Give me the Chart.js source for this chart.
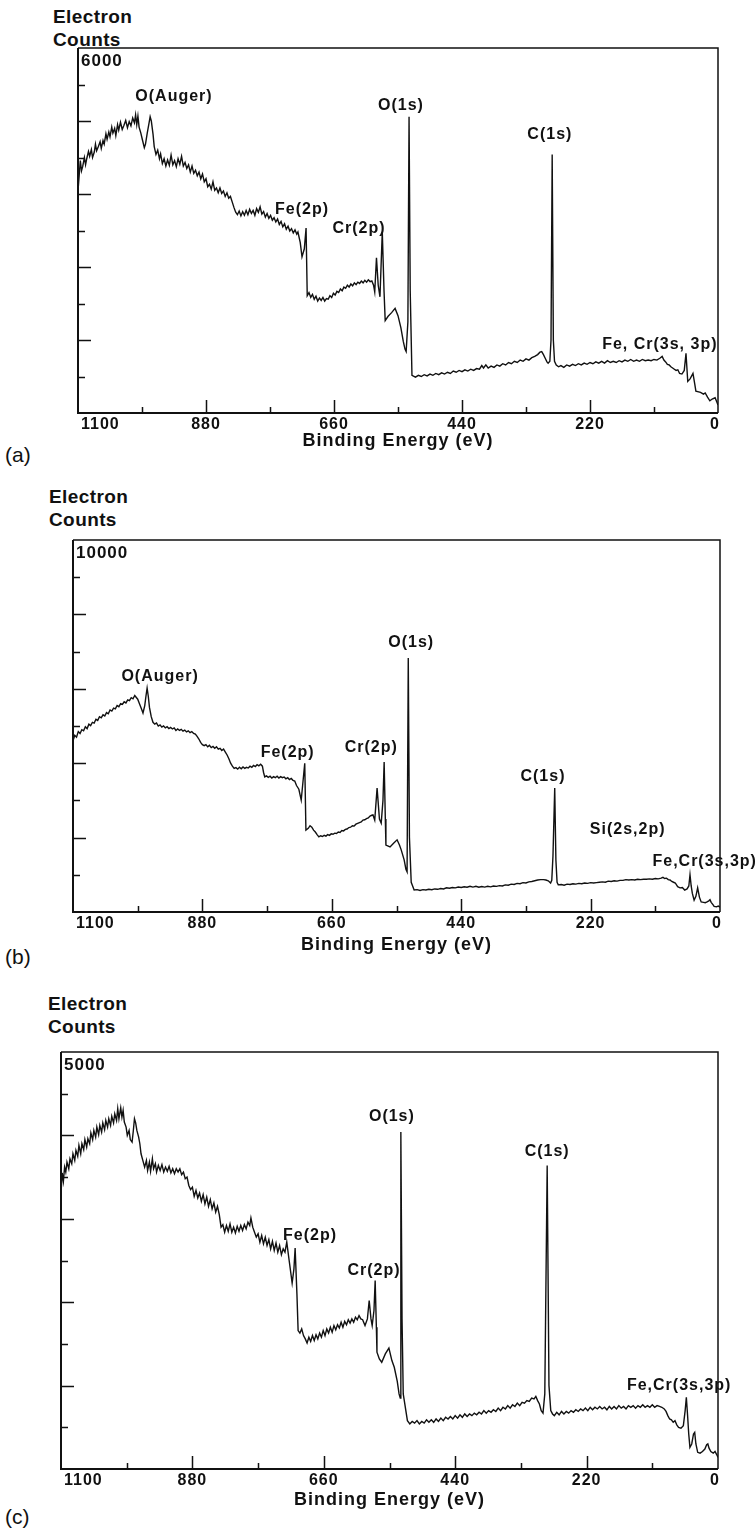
<!DOCTYPE html>
<html>
<head>
<meta charset="utf-8">
<script src="https://cdn.jsdelivr.net/npm/chart.js@4.4.1/dist/chart.umd.min.js"></script>
<style>
  body { margin: 0; background: #fff; }
  #page { position: relative; width: 756px; height: 1529px; font-family: "Liberation Sans", Arial, sans-serif; color: #111; }
  #page canvas { position: absolute; left: 0; }
  .ylab { position: absolute; font-weight: bold; font-size: 19px; line-height: 23px; letter-spacing: 0.4px; }
  .tag { position: absolute; left: 5px; font-size: 21px; line-height: 24px; }
</style>
</head>
<body>
<div id="page">
  <div class="ylab" style="left:53px; top:5px">Electron<br>Counts</div>
  <div class="ylab" style="left:49px; top:485px">Electron<br>Counts</div>
  <div class="ylab" style="left:48px; top:992px">Electron<br>Counts</div>
  <div class="tag" style="top:443px">(a)</div>
  <div class="tag" style="top:945px">(b)</div>
  <div class="tag" style="top:1505px">(c)</div>
  <canvas id="chartA" width="756" height="463" style="top:0px"></canvas>
  <canvas id="chartB" width="756" height="492" style="top:470px"></canvas>
  <canvas id="chartC" width="756" height="544" style="top:975px"></canvas>
</div>
<script>
// x axis: binding energy, labelled every 220 eV
const xMajor = [1100, 880, 660, 440, 220, 0];
const yMax = [6000, 10000, 5000];

// [binding energy (eV), electron counts]
const spectrumA = [
  [1100, 3650], [1098, 3900], [1096, 4150], [1094, 3980], [1092, 4050], [1089, 4200], [1087, 4080],
  [1085, 4180], [1082, 4300], [1080, 4220], [1077, 4330], [1075, 4200], [1072, 4290], [1070, 4420],
  [1068, 4310], [1065, 4380], [1062, 4460], [1060, 4350], [1057, 4480], [1055, 4420], [1052, 4590],
  [1050, 4500], [1047, 4620], [1045, 4540], [1042, 4700], [1040, 4600], [1037, 4680], [1035, 4560],
  [1032, 4740], [1030, 4650], [1027, 4780], [1024, 4660], [1021, 4730], [1018, 4810], [1015, 4690],
  [1012, 4790], [1009, 4720], [1006, 4850], [1003, 4770], [1001, 4900], [999, 4740], [997, 4880],
  [995, 4700], [992, 4600], [989, 4480], [986, 4360], [984, 4420], [981, 4600], [978, 4760],
  [976, 4870], [974, 4800], [971, 4580], [969, 4380], [966, 4250], [963, 4320], [960, 4180],
  [958, 4260], [955, 4100], [952, 4180], [949, 4060], [946, 4160], [943, 4070], [940, 4240],
  [937, 4080], [934, 4150], [931, 4050], [928, 4180], [925, 4090], [922, 4220], [919, 4060],
  [916, 4120], [913, 4020], [910, 4080], [907, 3960], [904, 4060], [901, 3940], [898, 3990],
  [895, 3900], [892, 3960], [889, 3850], [886, 3930], [883, 3800], [880, 3850], [877, 3720],
  [874, 3760], [871, 3680], [868, 3800], [865, 3660], [862, 3700], [859, 3620], [856, 3700],
  [853, 3610], [850, 3650], [847, 3560], [844, 3620], [841, 3530], [838, 3560], [835, 3470],
  [832, 3380], [829, 3300], [826, 3260], [823, 3320], [820, 3240], [817, 3310], [814, 3250],
  [811, 3330], [808, 3260], [805, 3350], [802, 3280], [799, 3330], [796, 3250], [793, 3360],
  [790, 3300], [787, 3390], [784, 3270], [781, 3310], [778, 3220], [775, 3280], [772, 3200],
  [769, 3250], [766, 3170], [763, 3210], [760, 3140], [757, 3190], [754, 3100], [751, 3150],
  [748, 3060], [745, 3110], [742, 3020], [739, 3070], [736, 2990], [733, 3030], [730, 2960],
  [727, 3010], [724, 2940], [722, 2975], [718, 2800], [715, 2567], [711, 2700], [708, 3040],
  [706, 1930], [703, 1980], [700, 1900], [697, 1950], [694, 1870], [691, 1920], [688, 1840],
  [685, 1890], [682, 1850], [679, 1900], [676, 1840], [673, 1880], [670, 1870], [667, 1930],
  [664, 1900], [661, 1970], [658, 1940], [655, 2000], [652, 1980], [649, 2040], [646, 2010],
  [643, 2070], [640, 2050], [637, 2100], [634, 2070], [631, 2120], [628, 2090], [625, 2140],
  [622, 2110], [619, 2150], [616, 2130], [613, 2170], [610, 2140], [607, 2180], [604, 2150],
  [601, 2190], [598, 2160], [595, 2170], [592, 2100], [590, 1990], [587, 2550], [584, 2100],
  [581, 1910], [577, 2980], [574, 2000], [572, 1520], [567, 1590], [561, 1650], [555, 1720],
  [550, 1600], [545, 1400], [541, 1180], [538, 1050], [536, 1010], [533, 1500], [531, 4870],
  [529, 2000], [526, 620], [520, 590], [515, 620], [510, 600], [505, 630], [500, 610],
  [495, 640], [490, 620], [485, 650], [480, 630], [475, 660], [470, 640], [465, 670],
  [460, 650], [455, 690], [450, 670], [445, 700], [440, 680], [435, 710], [430, 690],
  [425, 720], [420, 700], [415, 730], [410, 720], [406, 780], [403, 740], [399, 790],
  [395, 740], [390, 770], [385, 750], [380, 790], [375, 770], [370, 810], [365, 790],
  [360, 830], [355, 810], [350, 850], [345, 830], [340, 870], [335, 850], [330, 890],
  [325, 870], [320, 910], [315, 930], [310, 960], [306, 1000], [303, 1010], [300, 960],
  [297, 900], [294, 840], [292, 820], [289, 850], [287, 1200], [285, 4250], [283, 1200],
  [281, 850], [278, 790], [274, 760], [270, 780], [265, 750], [260, 790], [255, 770],
  [250, 800], [245, 780], [240, 810], [235, 790], [230, 820], [225, 800], [220, 830],
  [215, 810], [210, 840], [205, 820], [200, 850], [195, 820], [190, 860], [185, 830],
  [180, 850], [175, 830], [170, 860], [165, 840], [160, 870], [155, 850], [150, 880],
  [145, 850], [140, 870], [135, 850], [130, 880], [125, 860], [120, 870], [115, 860],
  [110, 880], [105, 870], [100, 900], [96, 930], [93, 870], [90, 840], [87, 800], [84, 790],
  [81, 760], [78, 740], [75, 720], [72, 700], [69, 710], [66, 650], [62, 640], [58, 700],
  [55, 980], [52, 520], [48, 560], [43, 650], [40, 480], [38, 360], [30, 340], [25, 310],
  [22, 330], [18, 260], [14, 200], [10, 230], [5, 250], [2, 180], [0, 130]
];

const spectrumB = [
  [1100, 4600], [1097, 4750], [1094, 4700], [1091, 4850], [1088, 4800], [1085, 4900], [1082, 4870],
  [1079, 4980], [1076, 4930], [1073, 5050], [1070, 5010], [1067, 5100], [1064, 5080], [1061, 5180],
  [1058, 5150], [1055, 5250], [1052, 5220], [1049, 5300], [1046, 5270], [1043, 5360], [1040, 5330],
  [1037, 5430], [1034, 5400], [1031, 5480], [1028, 5460], [1025, 5550], [1022, 5520], [1019, 5600],
  [1016, 5580], [1013, 5650], [1010, 5620], [1007, 5700], [1004, 5680], [1001, 5760], [998, 5730],
  [995, 5820], [993, 5780], [990, 5720], [987, 5600], [984, 5480], [981, 5350], [978, 5550],
  [976, 5800], [974, 6020], [972, 5800], [970, 5500], [967, 5250], [964, 5100], [961, 5050],
  [958, 5080], [955, 5000], [952, 5030], [949, 4970], [946, 5000], [943, 4950], [940, 4980],
  [937, 4930], [934, 4960], [931, 4920], [928, 4950], [925, 4880], [922, 4920], [919, 4880],
  [916, 4910], [913, 4860], [910, 4890], [907, 4840], [904, 4870], [901, 4820], [898, 4850],
  [895, 4800], [892, 4780], [889, 4720], [886, 4650], [883, 4560], [880, 4500], [877, 4470],
  [874, 4500], [871, 4440], [868, 4480], [865, 4420], [862, 4450], [859, 4400], [856, 4440],
  [853, 4380], [850, 4400], [847, 4340], [844, 4380], [841, 4300], [838, 4220], [835, 4120],
  [832, 4000], [829, 3920], [826, 3860], [823, 3880], [820, 3840], [817, 3890], [814, 3850],
  [811, 3900], [808, 3860], [805, 3890], [802, 3870], [799, 3920], [796, 3890], [793, 3940],
  [790, 3910], [787, 3960], [784, 3930], [781, 3970], [778, 3920], [776, 3750], [774, 3630],
  [771, 3660], [768, 3620], [765, 3650], [762, 3600], [759, 3640], [756, 3610], [753, 3650],
  [750, 3600], [747, 3640], [744, 3610], [741, 3630], [738, 3580], [735, 3610], [732, 3560],
  [729, 3590], [726, 3540], [723, 3520], [720, 3400], [716, 3300], [712, 3010], [709, 3500],
  [706, 4000], [704, 2200], [700, 2250], [697, 2320], [694, 2280], [691, 2200], [688, 2150],
  [685, 2080], [682, 2020], [679, 2050], [676, 2030], [673, 2060], [670, 2040], [667, 2080],
  [664, 2060], [661, 2100], [658, 2090], [655, 2120], [652, 2110], [649, 2150], [646, 2140],
  [643, 2190], [640, 2180], [637, 2220], [634, 2230], [631, 2270], [628, 2280], [625, 2320],
  [622, 2310], [619, 2360], [616, 2380], [613, 2400], [610, 2420], [607, 2470], [604, 2480],
  [601, 2510], [598, 2530], [595, 2580], [592, 2600], [590, 2610], [587, 2470], [583, 3330],
  [579, 2500], [576, 2390], [573, 3000], [571, 4030], [569, 2500], [568, 1800], [561, 1750],
  [555, 1850], [549, 1940], [545, 1800], [542, 1670], [537, 1400], [534, 1150], [532, 1080],
  [530, 6830], [528, 2000], [525, 800], [520, 590], [515, 600], [510, 580], [505, 600],
  [500, 590], [495, 610], [490, 600], [485, 620], [480, 610], [475, 630], [470, 620],
  [465, 650], [460, 640], [455, 660], [450, 650], [445, 670], [440, 660], [435, 680],
  [430, 665], [425, 690], [420, 670], [415, 690], [410, 665], [405, 685], [400, 670],
  [395, 690], [390, 675], [385, 700], [380, 690], [375, 710], [370, 700], [365, 730],
  [360, 720], [355, 750], [350, 740], [345, 770], [340, 760], [335, 790], [330, 780],
  [325, 810], [320, 820], [315, 840], [310, 860], [305, 870], [300, 870], [296, 860],
  [292, 840], [288, 780], [286, 850], [284, 1500], [281, 3330], [279, 1400], [277, 800],
  [275, 730], [270, 740], [265, 720], [260, 750], [255, 740], [250, 760], [245, 750],
  [240, 770], [235, 760], [230, 780], [225, 770], [220, 790], [215, 780], [210, 790],
  [205, 800], [200, 810], [195, 800], [190, 830], [185, 820], [180, 840], [175, 830],
  [170, 850], [165, 850], [160, 870], [155, 860], [150, 870], [145, 860], [140, 880],
  [135, 870], [130, 880], [125, 880], [120, 890], [115, 880], [110, 900], [105, 890],
  [100, 910], [97, 930], [94, 900], [91, 910], [88, 870], [85, 860], [82, 820], [79, 800],
  [76, 780], [72, 680], [68, 650], [64, 660], [60, 590], [56, 620], [53, 700], [51, 1000],
  [49, 700], [47, 500], [44, 320], [41, 420], [38, 650], [35, 400], [32, 270], [28, 260],
  [25, 250], [22, 270], [19, 300], [17, 330], [15, 260], [12, 200], [10, 150], [6, 140],
  [3, 160], [0, 134]
];

const spectrumC = [
  [1100, 3300], [1098, 3550], [1096, 3450], [1094, 3620], [1092, 3560], [1090, 3680], [1087, 3600],
  [1085, 3720], [1082, 3660], [1080, 3780], [1077, 3700], [1075, 3820], [1072, 3750], [1070, 3880],
  [1067, 3780], [1065, 3900], [1062, 3830], [1060, 3950], [1057, 3860], [1055, 3960], [1052, 3900],
  [1050, 4030], [1047, 3950], [1045, 4060], [1042, 3980], [1040, 4100], [1037, 4010], [1035, 4120],
  [1032, 4040], [1030, 4150], [1027, 4070], [1025, 4180], [1022, 4100], [1020, 4200], [1017, 4120],
  [1015, 4230], [1012, 4150], [1010, 4260], [1007, 4180], [1005, 4320], [1003, 4200], [1000, 4330],
  [998, 4220], [996, 4300], [994, 4160], [991, 4100], [989, 4000], [986, 4060], [984, 3950],
  [981, 3920], [979, 4050], [977, 4200], [975, 4150], [973, 4060], [970, 3980], [968, 3900],
  [966, 3780], [963, 3700], [960, 3620], [957, 3700], [955, 3580], [952, 3680], [950, 3570],
  [947, 3720], [945, 3600], [942, 3660], [940, 3560], [937, 3640], [934, 3580], [931, 3650],
  [928, 3560], [925, 3620], [922, 3570], [919, 3630], [916, 3550], [913, 3600], [910, 3540],
  [907, 3600], [904, 3560], [901, 3600], [898, 3530], [895, 3560], [892, 3480], [889, 3500],
  [886, 3400], [883, 3350], [880, 3380], [877, 3270], [874, 3340], [871, 3250], [868, 3310],
  [865, 3210], [862, 3290], [859, 3180], [856, 3260], [853, 3150], [850, 3230], [847, 3120],
  [844, 3190], [841, 3080], [838, 3150], [835, 3050], [832, 2900], [829, 2930], [826, 2840],
  [823, 2920], [820, 2850], [817, 2940], [814, 2840], [811, 2900], [808, 2830], [805, 2910],
  [802, 2850], [799, 2920], [796, 2860], [793, 2930], [790, 2880], [787, 2960], [784, 2920],
  [782, 3010], [779, 2900], [776, 2840], [773, 2780], [770, 2820], [767, 2720], [764, 2800],
  [761, 2700], [758, 2780], [755, 2680], [752, 2750], [749, 2640], [746, 2730], [743, 2620],
  [740, 2710], [737, 2600], [734, 2680], [731, 2570], [728, 2640], [725, 2600], [722, 2720],
  [718, 2500], [713, 2230], [710, 2400], [708, 2650], [705, 2100], [703, 1660], [700, 1630],
  [697, 1680], [694, 1600], [691, 1560], [688, 1510], [685, 1580], [682, 1530], [679, 1600],
  [676, 1540], [673, 1610], [670, 1560], [667, 1630], [664, 1580], [661, 1660], [658, 1600],
  [655, 1680], [652, 1630], [649, 1700], [646, 1640], [643, 1720], [640, 1670], [637, 1730],
  [634, 1690], [631, 1760], [628, 1700], [625, 1770], [622, 1730], [619, 1790], [616, 1750],
  [613, 1800], [610, 1760], [607, 1820], [604, 1790], [601, 1840], [598, 1800], [595, 1790],
  [591, 1720], [587, 1800], [584, 2020], [581, 1800], [579, 1720], [576, 1900], [574, 2260],
  [572, 1700], [571, 1400], [567, 1320], [563, 1280], [557, 1380], [551, 1450], [546, 1300],
  [542, 1220], [537, 1050], [534, 900], [532, 850], [531, 4040], [529, 1800], [527, 900],
  [520, 580], [516, 540], [512, 570], [508, 550], [504, 580], [500, 540], [496, 570],
  [492, 550], [488, 590], [484, 560], [480, 590], [476, 560], [472, 600], [468, 570],
  [464, 610], [460, 580], [456, 620], [452, 600], [448, 630], [444, 600], [440, 640],
  [436, 610], [432, 650], [428, 620], [424, 660], [420, 630], [416, 660], [412, 640],
  [408, 670], [404, 650], [400, 680], [396, 660], [392, 700], [388, 670], [384, 700],
  [380, 680], [376, 710], [372, 690], [368, 730], [364, 700], [360, 740], [356, 720],
  [352, 760], [348, 730], [344, 770], [340, 750], [336, 790], [332, 760], [328, 800],
  [324, 790], [320, 820], [316, 810], [312, 850], [308, 840], [305, 870], [302, 820],
  [299, 780], [296, 700], [293, 670], [290, 900], [286, 3640], [283, 1000], [280, 700],
  [277, 660], [274, 640], [270, 680], [266, 650], [262, 690], [258, 660], [254, 690],
  [250, 670], [246, 700], [242, 680], [238, 710], [234, 690], [230, 720], [226, 700],
  [222, 730], [218, 700], [214, 740], [210, 710], [206, 740], [202, 720], [198, 750],
  [194, 720], [190, 740], [186, 710], [182, 750], [178, 720], [174, 750], [170, 720],
  [166, 760], [162, 730], [158, 750], [154, 720], [150, 760], [146, 740], [142, 760],
  [138, 730], [134, 760], [130, 740], [126, 770], [122, 740], [118, 760], [114, 740],
  [110, 770], [106, 740], [102, 760], [98, 750], [94, 740], [90, 720], [87, 690], [84, 640],
  [81, 600], [78, 590], [75, 560], [72, 580], [69, 530], [66, 500], [62, 490], [58, 520],
  [55, 700], [53, 860], [51, 650], [49, 420], [47, 260], [44, 300], [41, 420], [39, 440],
  [37, 300], [34, 200], [30, 190], [26, 210], [22, 240], [19, 290], [17, 300], [15, 250],
  [12, 210], [8, 190], [5, 210], [2, 170], [0, 140]
];

// peak labels: [text, energy, counts] at the label centre
const notesA = [
  ['O(Auger)', 935, 5200], ['O(1s)', 545, 5050], ['C(1s)', 289, 4578],
  ['Fe(2p)', 715, 3350], ['Cr(2p)', 617, 3024], ['Fe, Cr(3s, 3p)', 100, 1130]
];
const notesB = [
  ['O(Auger)', 952, 6317], ['O(1s)', 525, 7231], ['Fe(2p)', 735, 4274], ['Cr(2p)', 593, 4409],
  ['C(1s)', 301, 3629], ['Si(2s,2p)', 157, 2205], ['Fe,Cr(3s,3p)', 26, 1344]
];
const notesC = [
  ['O(1s)', 546, 4220], ['C(1s)', 286, 3800], ['Fe(2p)', 683, 2804],
  ['Cr(2p)', 576, 2384], ['Fe,Cr(3s,3p)', 65, 1004]
];

const FONT = '"Liberation Sans", Arial, sans-serif';
const INK = '#111';

// box frame, inward ticks, tick labels, top count label and peak labels
const spectrumFrame = {
  id: 'spectrumFrame',
  beforeDraw(chart) {
    chart.ctx.letterSpacing = '1px';
  },
  afterDatasetsDraw(chart, args, opts) {
    const { ctx, chartArea: a, scales: { x, y } } = chart;
    ctx.save();
    ctx.strokeStyle = INK;
    ctx.lineWidth = 2;
    ctx.beginPath();
    ctx.moveTo(a.left, a.top);
    ctx.lineTo(a.left, a.bottom);
    ctx.lineTo(a.right, a.bottom);
    ctx.stroke();
    ctx.lineWidth = 1.5;
    ctx.beginPath();
    ctx.moveTo(a.left, a.top);
    ctx.lineTo(a.right, a.top);
    ctx.lineTo(a.right, a.bottom);
    ctx.stroke();

    ctx.beginPath();
    x.ticks.forEach(t => {
      if (t.value <= x.min || t.value >= x.max) return;
      const px = Math.round(x.getPixelForValue(t.value)) + 0.5;
      const len = t.value % 220 === 0 ? 13 : 6;
      ctx.moveTo(px, a.bottom);
      ctx.lineTo(px, a.bottom - len);
    });
    const step = y.options.ticks.stepSize;
    y.ticks.forEach(t => {
      if (t.value <= y.min || t.value >= y.max) return;
      const py = Math.round(y.getPixelForValue(t.value)) + 0.5;
      const len = Math.round(t.value / step) % 2 === 0 ? 13 : 7;
      ctx.moveTo(a.left, py);
      ctx.lineTo(a.left + len, py);
    });
    ctx.stroke();

    ctx.fillStyle = INK;
    ctx.font = 'bold 16px ' + FONT;
    ctx.textBaseline = 'top';
    x.ticks.forEach(t => {
      if (!xMajor.includes(t.value)) return;
      const px = x.getPixelForValue(t.value);
      if (t.value === x.max) { ctx.textAlign = 'left'; ctx.fillText(String(t.value), px + 3, a.bottom + 4); }
      else if (t.value === x.min) { ctx.textAlign = 'right'; ctx.fillText(String(t.value), px + 2, a.bottom + 4); }
      else { ctx.textAlign = 'center'; ctx.fillText(String(t.value), px, a.bottom + 4); }
    });

    ctx.font = 'bold 17px ' + FONT;
    ctx.textAlign = 'left';
    ctx.fillText(String(y.max), a.left + 3, a.top + 5);

    ctx.font = 'bold 16px ' + FONT;
    ctx.textAlign = 'center';
    ctx.textBaseline = 'middle';
    opts.notes.forEach(([text, e, c]) => {
      ctx.fillText(text, x.getPixelForValue(e), y.getPixelForValue(c));
    });
    ctx.restore();
  }
};

function makeSpectrum(id, points, top, max, notes, left, right, titlePad) {
  return new Chart(document.getElementById(id), {
    type: 'line',
    data: {
      datasets: [{
        data: points.map(([e, c]) => ({ x: e, y: c })),
        borderColor: INK,
        borderWidth: 1.4,
        pointRadius: 0,
        tension: 0,
        fill: false
      }]
    },
    options: {
      responsive: false,
      animation: false,
      events: [],
      layout: { padding: { top: top, left: left, right: 756 - right, bottom: 0 } },
      plugins: {
        legend: { display: false },
        tooltip: { enabled: false },
        spectrumFrame: { notes: notes }
      },
      scales: {
        x: {
          type: 'linear',
          reverse: true,
          min: 0,
          max: 1100,
          afterFit: s => { s.height = 50; },
          grid: { display: false, drawTicks: false },
          border: { display: false },
          ticks: { display: false, stepSize: 110, autoSkip: false },
          title: {
            display: true,
            text: 'Binding Energy (eV)',
            color: INK,
            font: { family: FONT, size: 18, weight: 'bold' },
            padding: { top: 0, bottom: titlePad }
          }
        },
        y: {
          min: 0,
          max: max,
          ticks: { display: false, stepSize: max / 10 },
          grid: { display: false, drawTicks: false },
          border: { display: false }
        }
      }
    },
    plugins: [spectrumFrame]
  });
}

makeSpectrum('chartA', spectrumA, 48, yMax[0], notesA, 78, 718, 11);
makeSpectrum('chartB', spectrumB, 70, yMax[1], notesB, 73, 720, 6);
makeSpectrum('chartC', spectrumC, 77, yMax[2], notesC, 61, 718, 8);
</script>
</body>
</html>
